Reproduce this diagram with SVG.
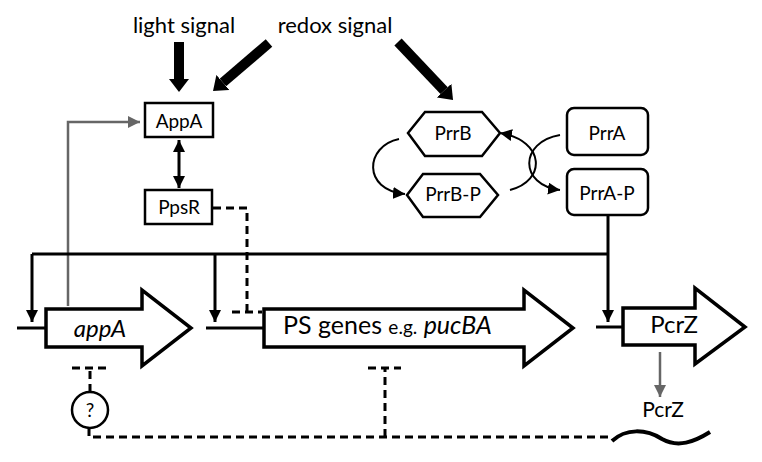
<svg xmlns="http://www.w3.org/2000/svg" width="762" height="462" viewBox="0 0 762 462">
<defs>
<marker id="ah" markerUnits="userSpaceOnUse" viewBox="0 0 12 12" markerWidth="12" markerHeight="12" refX="12" refY="6" orient="auto-start-reverse"><path d="M0,0 L12,6 L0,12 z" fill="#000"/></marker>
<marker id="ahg" markerUnits="userSpaceOnUse" viewBox="0 0 12 12" markerWidth="12" markerHeight="12" refX="12" refY="6" orient="auto"><path d="M0,0 L12,6 L0,12 z" fill="#666"/></marker>
<marker id="big" markerUnits="userSpaceOnUse" viewBox="0 -10 13 20" markerWidth="13" markerHeight="20" refX="0" refY="0" orient="auto"><path d="M0,-10 L13,0 L0,10 z" fill="#000"/></marker>
</defs>
<style>
text{font-family:Lato,"Liberation Sans",sans-serif;fill:#000}
.box{fill:#fff;stroke:#000;stroke-width:2.5}
.gene{fill:#fff;stroke:#000;stroke-width:3.5;stroke-linejoin:miter}
.ln{fill:none;stroke:#000;stroke-width:3}
.thin{fill:none;stroke:#000;stroke-width:2}
.dash{fill:none;stroke:#000;stroke-width:3;stroke-dasharray:8 5}
.grey{fill:none;stroke:#666;stroke-width:2.5}
.sig{stroke:#000;stroke-width:10;fill:none}
</style>
<rect width="762" height="462" fill="#fff"/>
<g id="labels">
<text x="184" y="33" font-size="22" text-anchor="middle">light signal</text>
<text x="335" y="33" font-size="22" text-anchor="middle">redox signal</text>
</g>
<g id="connectors">
<line class="sig" x1="179" y1="42" x2="179" y2="79" marker-end="url(#big)"/>
<line class="sig" x1="269" y1="43" x2="222.9" y2="82.5" marker-end="url(#big)"/>
<line class="sig" x1="398" y1="42" x2="444.1" y2="90.6" marker-end="url(#big)"/>
<path class="grey" d="M68,306 V122 H140" marker-end="url(#ahg)"/>
<line class="ln" x1="179" y1="140" x2="179" y2="188" marker-start="url(#ah)" marker-end="url(#ah)"/>
<path class="dash" d="M213,208 H247 V312"/>
<path class="ln" d="M232,312 H262" stroke-dasharray="8 5"/>
<path class="thin" d="M399,139 C365,146 362,190 405,194" marker-end="url(#ah)"/>
<path class="thin" d="M510,190 C546,181 546,141 500,133" marker-end="url(#ah)"/>
<path class="thin" d="M560,135 C519,142 519,185 560,190" marker-end="url(#ah)"/>
<path class="ln" d="M32,254 H608"/>
<path class="ln" d="M608,215 V322" marker-end="url(#ah)"/>
<path class="ln" d="M32,254 V322" marker-end="url(#ah)"/>
<path class="ln" d="M215,254 V322" marker-end="url(#ah)"/>
<path class="ln" d="M17,328 H46 M206,328 H264 M596,327 H623"/>
<path class="grey" d="M660,352 V397" marker-end="url(#ahg)"/>
<path class="dash" d="M89,428 V437 H608"/>
<path class="dash" d="M90,392 V368"/>
<path class="ln" d="M72,368 H106" stroke-dasharray="8 5"/>
<path class="dash" d="M385,437 V368"/>
<path class="ln" d="M368,368 H401" stroke-dasharray="8 5"/>
<path d="M612,441 C626,428 646,429 662,439 C678,448 694,442 710,432" fill="none" stroke="#000" stroke-width="4"/>
</g>
<g id="AppA"><rect class="box" x="145" y="103" width="68" height="34"/><text x="179" y="128" font-size="19" text-anchor="middle">AppA</text></g>
<g id="PpsR"><rect class="box" x="145" y="190" width="67" height="34"/><text x="179" y="214" font-size="19" text-anchor="middle">PpsR</text></g>
<g id="PrrB"><polygon class="box" points="408,133 425,112 482,112 500,133 482,156 425,156"/><text x="453" y="140" font-size="19" text-anchor="middle">PrrB</text></g>
<g id="PrrB-P"><polygon class="box" points="407,195 423,174 480,174 498,195 480,217 423,217"/><text x="453" y="201" font-size="19" text-anchor="middle">PrrB-P</text></g>
<g id="PrrA"><rect class="box" x="567" y="108" width="81" height="47" rx="7"/><text x="607" y="140" font-size="19" text-anchor="middle">PrrA</text></g>
<g id="PrrA-P"><rect class="box" x="567" y="169" width="81" height="46" rx="7"/><text x="607" y="200" font-size="19" text-anchor="middle">PrrA-P</text></g>
<g id="appA-gene"><path class="gene" d="M46,309 H142 V290 L191,328 L142,366 V347 H46 Z"/><text x="100" y="337" font-size="24" font-style="italic" text-anchor="middle">appA</text></g>
<g id="PS-genes"><path class="gene" d="M264,309 H524 V290 L573,328 L524,366 V347 H264 Z"/><text x="283" y="334" font-size="25">PS genes <tspan font-size="19">e.g.</tspan> <tspan font-style="italic">pucBA</tspan></text></g>
<g id="PcrZ-gene"><path class="gene" d="M623,308 H695 V288 L745,327 L695,364 V345 H623 Z"/><text x="674" y="333" font-size="24" text-anchor="middle">PcrZ</text></g>
<g id="PcrZ-protein"><text x="663" y="417" font-size="21" text-anchor="middle">PcrZ</text></g>
<g id="unknown"><circle class="box" cx="90" cy="410" r="18"/><text x="90" y="417" font-size="19" text-anchor="middle">?</text></g>
</svg>
